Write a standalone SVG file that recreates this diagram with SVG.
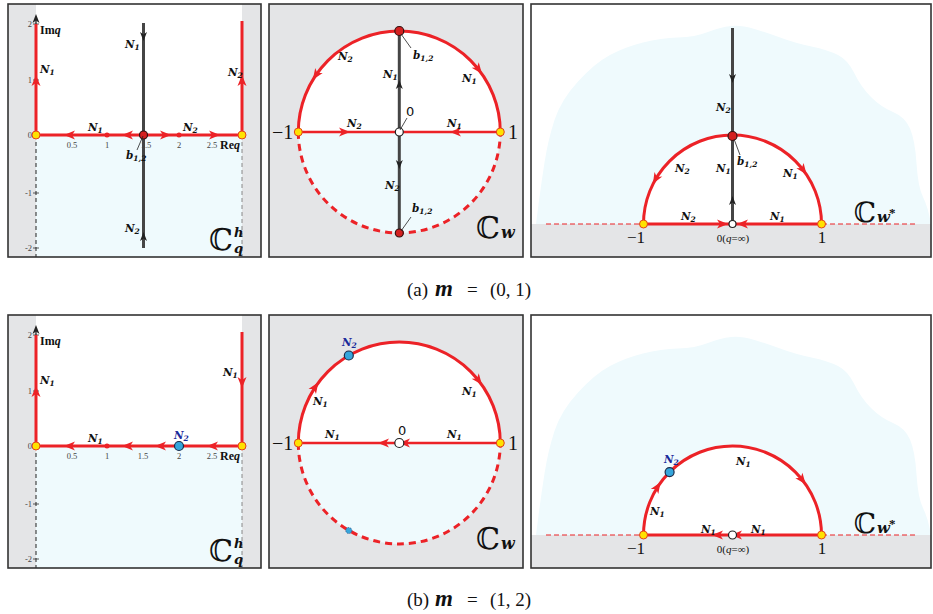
<svg xmlns="http://www.w3.org/2000/svg" width="933" height="614" viewBox="0 0 933 614">
<defs>
<style>
.bg{fill:#e4e5e7}
.frame{fill:none;stroke:#333;stroke-width:1.6}
.cy{fill:#effafd}
.red{stroke:#ec2227;stroke-width:3;fill:none}
.redd{stroke:#ec2227;stroke-width:3;fill:none;stroke-dasharray:7 5}
.rthin{stroke:#ec2227;stroke-width:1.2;stroke-dasharray:5 3;fill:none}
.dk{stroke:#454545;stroke-width:3}
.ldr{stroke:#222;stroke-width:0.8}
.ra{fill:#ec2227}
.da{fill:#222}
.n{font-family:"DejaVu Serif",serif;font-style:italic;font-weight:bold;font-size:10.5px;fill:#111}
.nb{font-family:"DejaVu Serif",serif;font-style:italic;font-weight:bold;font-size:10.5px;fill:#1a2a9a}
.s{font-size:7.5px}
.tk{font-family:"Liberation Serif",serif;font-size:8.5px;fill:#444}
.lb{font-family:"Liberation Serif",serif;fill:#111}
.z{font-family:"DejaVu Sans",sans-serif;font-size:13px;fill:#111}
.dbl{font-family:"DejaVu Serif",serif;fill:#111}
.yd{fill:#ffe200;stroke:#e2411c;stroke-width:1}
.rd{fill:#d42020;stroke:#331111;stroke-width:1.2}
.wd{fill:#fff;stroke:#222;stroke-width:1.2}
.bd{fill:#35a6dc;stroke:#1b2b4a;stroke-width:1.2}
.cap{font-family:"Liberation Serif",serif;font-size:19px;fill:#111}
</style>
<path id="ah" d="M5,0 L-6,-4.5 L-3,0 L-6,4.5 Z"/>
<path id="dh" d="M4,0 L-5,-3.5 L-2.5,0 L-5,3.5 Z"/>
<path id="cloud" d="M536,224 L538.5,204.5 Q541,185 544.5,162.5 Q548,140 554.5,120 Q561,100 578,81.5 Q595,63 610,55 Q625,47 643,42.5 Q661,38 678,37.5 Q695,37 708,32 Q721,27 731,26 Q741,25 754.5,29 Q768,33 781.5,38 Q795,43 811.5,46.5 Q828,50 838,55 Q848,60 854.5,73.5 Q861,87 871,97 Q881,107 893,112 Q905,117 910,128.5 Q915,140 916.5,163.5 Q918,187 923,197 Q928,207 931,224 Z"/>
</defs>
<rect x="0" y="0" width="933" height="614" fill="#fff"/>

<!-- ================= Row (a) ================= -->
<g id="panel-a1">
<rect x="8" y="4" width="253" height="253" class="bg"/>
<rect x="36" y="4" width="206" height="131" fill="#fff"/>
<rect x="36" y="135" width="206" height="122" class="cy"/>
<line x1="36" y1="135" x2="36" y2="257" stroke="#222" stroke-width="1" stroke-dasharray="4 3"/>
<line x1="242" y1="135" x2="242" y2="257" stroke="#888" stroke-width="1" stroke-dasharray="4 3"/>
<g stroke="#333" stroke-width="0.8">
<line x1="33" y1="24" x2="39" y2="24"/><line x1="33" y1="80" x2="39" y2="80"/>
<line x1="33" y1="193" x2="39" y2="193"/><line x1="33" y1="248" x2="39" y2="248"/>
</g>
<g class="tk" text-anchor="end">
<text x="32" y="27">2</text><text x="32" y="83">1</text><text x="32" y="138">0</text>
<text x="32" y="196">-1</text><text x="32" y="251">-2</text>
</g>
<g class="tk" text-anchor="middle">
<text x="72" y="148">0.5</text><text x="107" y="148">1</text><text x="146" y="148">1.5</text>
<text x="179" y="148">2</text><text x="212" y="148">2.5</text>
</g>
<line x1="36" y1="135" x2="36" y2="20" stroke="#222" stroke-width="1.3"/>
<use href="#dh" class="da" transform="translate(36,18) rotate(-90)"/>
<line x1="36" y1="135" x2="36" y2="24" class="red"/>
<use href="#ah" class="ra" transform="translate(36,80) rotate(-90)"/>
<line x1="242" y1="135" x2="242" y2="21" class="red"/>
<use href="#ah" class="ra" transform="translate(242,80) rotate(-90)"/>
<line x1="36" y1="135" x2="242" y2="135" class="red"/>
<use href="#ah" class="ra" transform="translate(69,135) rotate(180)"/>
<use href="#ah" class="ra" transform="translate(127,135) rotate(180)"/>
<use href="#ah" class="ra" transform="translate(166,135)"/>
<use href="#ah" class="ra" transform="translate(215,135)"/>
<circle cx="107" cy="135" r="2.5" class="ra"/>
<circle cx="179" cy="135" r="2.5" class="ra"/>
<line x1="143.5" y1="23" x2="143.5" y2="248" class="dk"/>
<use href="#dh" class="da" transform="translate(143.5,37) rotate(90)"/>
<use href="#dh" class="da" transform="translate(143.5,236) rotate(-90)"/>
<circle cx="36" cy="135" r="4" class="yd"/>
<circle cx="242" cy="135" r="4" class="yd"/>
<circle cx="143.5" cy="135" r="4" class="rd"/>
<line x1="143" y1="136" x2="137" y2="150" class="ldr"/>
<text class="n" x="126" y="159">b<tspan class="s" dy="2">1,2</tspan></text>
<text class="lb" x="40" y="34" font-size="12" font-weight="bold">Im<tspan font-style="italic">q</tspan></text>
<text class="lb" x="220" y="149" font-size="12" font-weight="bold">Re<tspan font-style="italic">q</tspan></text>
<text class="n" x="125" y="48">N<tspan class="s" dy="2">1</tspan></text>
<text class="n" x="40" y="73">N<tspan class="s" dy="2">1</tspan></text>
<text class="n" x="228" y="76">N<tspan class="s" dy="2">2</tspan></text>
<text class="n" x="88" y="131">N<tspan class="s" dy="2">1</tspan></text>
<text class="n" x="183" y="131">N<tspan class="s" dy="2">2</tspan></text>
<text class="n" x="125" y="232">N<tspan class="s" dy="2">2</tspan></text>
<text class="dbl" x="233" y="250" font-size="30" text-anchor="end">ℂ</text>
<text class="dbl" x="234" y="237" font-size="13" font-style="italic" font-weight="bold">h</text>
<text class="dbl" x="234" y="253" font-size="13" font-style="italic" font-weight="bold">q</text>
<rect x="8" y="4" width="253" height="253" class="frame"/>
</g>

<g id="panel-a2">
<rect x="269" y="4" width="254" height="253" class="bg"/>
<path d="M298.3,132 A101,101 0 0 1 500.3,132 Z" fill="#fff"/>
<path d="M298.3,132 A101,101 0 0 0 500.3,132 Z" class="cy"/>
<path d="M298.3,132 A101,101 0 0 1 500.3,132" class="red"/>
<path d="M298.3,132 A101,101 0 0 0 500.3,132" class="redd"/>
<line x1="298.3" y1="132" x2="500.3" y2="132" stroke="#ec2227" stroke-width="2.5"/>
<use href="#ah" class="ra" transform="translate(345,132)"/>
<use href="#ah" class="ra" transform="translate(455,132) rotate(180)"/>
<use href="#ah" class="ra" transform="translate(315.6,75.5) rotate(124)"/>
<use href="#ah" class="ra" transform="translate(478.9,69.8) rotate(52)"/>
<line x1="399.3" y1="31" x2="399.3" y2="233" class="dk"/>
<use href="#dh" class="da" transform="translate(399.3,84) rotate(-90)"/>
<use href="#dh" class="da" transform="translate(399.3,165) rotate(90)"/>
<circle cx="298.3" cy="132" r="4" class="yd"/>
<circle cx="500.3" cy="132" r="4" class="yd"/>
<circle cx="399.3" cy="132" r="4" class="wd"/>
<circle cx="399.3" cy="31" r="4.5" class="rd"/>
<circle cx="399.3" cy="233" r="4" class="rd"/>
<line x1="401" y1="34" x2="411" y2="48" class="ldr"/>
<text class="n" x="413" y="59">b<tspan class="s" dy="2">1,2</tspan></text>
<line x1="411" y1="217" x2="401" y2="231" class="ldr"/>
<text class="n" x="412" y="212">b<tspan class="s" dy="2">1,2</tspan></text>
<line x1="400" y1="130" x2="407" y2="118" class="ldr"/>
<text class="z" x="406" y="116">0</text>
<text class="n" x="338" y="60">N<tspan class="s" dy="2">2</tspan></text>
<text class="n" x="383" y="78">N<tspan class="s" dy="2">1</tspan></text>
<text class="n" x="462" y="82">N<tspan class="s" dy="2">1</tspan></text>
<text class="n" x="347" y="127">N<tspan class="s" dy="2">2</tspan></text>
<text class="n" x="447" y="127">N<tspan class="s" dy="2">1</tspan></text>
<text class="n" x="385" y="189">N<tspan class="s" dy="2">2</tspan></text>
<text class="lb" x="272" y="139" font-size="20">−1</text>
<text class="lb" x="508" y="139" font-size="20">1</text>
<text class="dbl" x="500" y="238" font-size="30" text-anchor="end">ℂ</text>
<text class="dbl" x="501" y="238" font-size="16" font-style="italic" font-weight="bold">w</text>
<rect x="269" y="4" width="254" height="253" class="frame"/>
</g>

<g id="panel-a3">
<rect x="531" y="4" width="400" height="253" fill="#fff"/>
<use href="#cloud" class="cy"/>
<rect x="531" y="224" width="400" height="33" class="bg"/>
<path d="M643.5,224 A89,89 0 0 1 821.5,224 Z" fill="#fff"/>
<line x1="546" y1="224" x2="643" y2="224" class="rthin"/>
<line x1="822" y1="224" x2="918" y2="224" class="rthin"/>
<path d="M643.5,224 A89,89 0 0 1 821.5,224" class="red"/>
<line x1="643.5" y1="224" x2="821.5" y2="224" class="red"/>
<use href="#ah" class="ra" transform="translate(723,224)"/>
<use href="#ah" class="ra" transform="translate(742,224) rotate(180)"/>
<use href="#ah" class="ra" transform="translate(655.4,179.5) rotate(120)"/>
<use href="#ah" class="ra" transform="translate(803.6,170.4) rotate(53)"/>
<line x1="732.5" y1="28" x2="732.5" y2="224" class="dk"/>
<use href="#dh" class="da" transform="translate(732.5,79) rotate(90)"/>
<use href="#dh" class="da" transform="translate(732.5,200) rotate(-90)"/>
<circle cx="643.5" cy="224" r="4" class="yd"/>
<circle cx="821.5" cy="224" r="4" class="yd"/>
<circle cx="732.5" cy="224" r="3.5" class="wd"/>
<circle cx="732.5" cy="136" r="4.5" class="rd"/>
<line x1="734" y1="139" x2="740" y2="155" class="ldr"/>
<text class="n" x="737" y="165">b<tspan class="s" dy="2">1,2</tspan></text>
<text class="n" x="716" y="111">N<tspan class="s" dy="2">2</tspan></text>
<text class="n" x="675" y="172">N<tspan class="s" dy="2">2</tspan></text>
<text class="n" x="716" y="172">N<tspan class="s" dy="2">1</tspan></text>
<text class="n" x="783" y="177">N<tspan class="s" dy="2">1</tspan></text>
<text class="n" x="681" y="220">N<tspan class="s" dy="2">2</tspan></text>
<text class="n" x="770" y="220">N<tspan class="s" dy="2">1</tspan></text>
<text class="lb" x="636" y="243" font-size="17" text-anchor="middle">−1</text>
<text class="lb" x="822" y="243" font-size="17" text-anchor="middle">1</text>
<text class="lb" x="733" y="242" font-size="11" text-anchor="middle">0(<tspan font-style="italic">q</tspan>=∞)</text>
<text class="dbl" x="876" y="222" font-size="28" text-anchor="end">ℂ</text>
<text class="dbl" x="877" y="222" font-size="15" font-style="italic" font-weight="bold">w</text>
<text class="lb" x="889" y="217" font-size="13" font-weight="bold">*</text>
<rect x="531" y="4" width="400" height="253" class="frame"/>
</g>

<text id="caption-a" class="cap" y="296"><tspan x="407">(a)</tspan><tspan x="435" font-style="italic" font-weight="bold" font-size="23">m</tspan><tspan x="467">=</tspan><tspan x="490">(0, 1)</tspan></text>

<!-- ================= Row (b) ================= -->
<g id="panel-b1" transform="translate(0,311)">
<rect x="8" y="4" width="253" height="253" class="bg"/>
<rect x="36" y="4" width="206" height="131" fill="#fff"/>
<rect x="36" y="135" width="206" height="122" class="cy"/>
<line x1="36" y1="135" x2="36" y2="257" stroke="#222" stroke-width="1" stroke-dasharray="4 3"/>
<line x1="242" y1="135" x2="242" y2="257" stroke="#888" stroke-width="1" stroke-dasharray="4 3"/>
<g stroke="#333" stroke-width="0.8">
<line x1="33" y1="24" x2="39" y2="24"/><line x1="33" y1="80" x2="39" y2="80"/>
<line x1="33" y1="193" x2="39" y2="193"/><line x1="33" y1="248" x2="39" y2="248"/>
</g>
<g class="tk" text-anchor="end">
<text x="32" y="27">2</text><text x="32" y="83">1</text><text x="32" y="138">0</text>
<text x="32" y="196">-1</text><text x="32" y="251">-2</text>
</g>
<g class="tk" text-anchor="middle">
<text x="72" y="148">0.5</text><text x="107" y="148">1</text><text x="143" y="148">1.5</text>
<text x="179" y="148">2</text><text x="212" y="148">2.5</text>
</g>
<line x1="36" y1="135" x2="36" y2="20" stroke="#222" stroke-width="1.3"/>
<use href="#dh" class="da" transform="translate(36,18) rotate(-90)"/>
<line x1="36" y1="135" x2="36" y2="24" class="red"/>
<use href="#ah" class="ra" transform="translate(36,80) rotate(-90)"/>
<line x1="242" y1="135" x2="242" y2="21" class="red"/>
<use href="#ah" class="ra" transform="translate(242,72) rotate(90)"/>
<line x1="36" y1="135" x2="242" y2="135" class="red"/>
<use href="#ah" class="ra" transform="translate(69,135) rotate(180)"/>
<use href="#ah" class="ra" transform="translate(127,135) rotate(180)"/>
<use href="#ah" class="ra" transform="translate(160,135) rotate(180)"/>
<use href="#ah" class="ra" transform="translate(212,135) rotate(180)"/>
<circle cx="107" cy="135" r="2.5" class="ra"/>
<circle cx="36" cy="135" r="4" class="yd"/>
<circle cx="242" cy="135" r="4" class="yd"/>
<circle cx="179" cy="135" r="4.5" class="bd"/>
<text class="lb" x="40" y="34" font-size="12" font-weight="bold">Im<tspan font-style="italic">q</tspan></text>
<text class="lb" x="220" y="149" font-size="12" font-weight="bold">Re<tspan font-style="italic">q</tspan></text>
<text class="n" x="40" y="73">N<tspan class="s" dy="2">1</tspan></text>
<text class="n" x="223" y="65">N<tspan class="s" dy="2">1</tspan></text>
<text class="n" x="88" y="131">N<tspan class="s" dy="2">1</tspan></text>
<text class="nb" x="174" y="128">N<tspan class="s" dy="2">2</tspan></text>
<text class="dbl" x="233" y="250" font-size="30" text-anchor="end">ℂ</text>
<text class="dbl" x="234" y="237" font-size="13" font-style="italic" font-weight="bold">h</text>
<text class="dbl" x="234" y="253" font-size="13" font-style="italic" font-weight="bold">q</text>
<rect x="8" y="4" width="253" height="253" class="frame"/>
</g>

<g id="panel-b2" transform="translate(0,311)">
<rect x="269" y="4" width="254" height="253" class="bg"/>
<path d="M298.3,132 A101,101 0 0 1 500.3,132 Z" fill="#fff"/>
<path d="M298.3,132 A101,101 0 0 0 500.3,132 Z" class="cy"/>
<path d="M298.3,132 A101,101 0 0 1 500.3,132" class="red"/>
<path d="M298.3,132 A101,101 0 0 0 500.3,132" class="redd"/>
<line x1="298.3" y1="132" x2="500.3" y2="132" stroke="#ec2227" stroke-width="2.5"/>
<use href="#ah" class="ra" transform="translate(383,132) rotate(180)"/>
<use href="#ah" class="ra" transform="translate(404,132) rotate(180)"/>
<use href="#ah" class="ra" transform="translate(315.6,75.5) rotate(-56)"/>
<use href="#ah" class="ra" transform="translate(478.9,69.8) rotate(52)"/>
<circle cx="298.3" cy="132" r="4" class="yd"/>
<circle cx="500.3" cy="132" r="4" class="yd"/>
<circle cx="399.3" cy="132" r="4.5" class="wd"/>
<circle cx="348.8" cy="44.5" r="4.5" class="bd"/>
<circle cx="348.8" cy="219.5" r="3" fill="#35a6dc" stroke="#3a5a8a" stroke-width="0.8" stroke-dasharray="1.5 1"/>
<text class="z" x="398" y="124">0</text>
<text class="nb" x="342" y="35">N<tspan class="s" dy="2">2</tspan></text>
<text class="n" x="313" y="94">N<tspan class="s" dy="2">1</tspan></text>
<text class="n" x="462" y="84">N<tspan class="s" dy="2">1</tspan></text>
<text class="n" x="325" y="127">N<tspan class="s" dy="2">1</tspan></text>
<text class="n" x="447" y="127">N<tspan class="s" dy="2">1</tspan></text>
<text class="lb" x="272" y="139" font-size="20">−1</text>
<text class="lb" x="508" y="139" font-size="20">1</text>
<text class="dbl" x="500" y="238" font-size="30" text-anchor="end">ℂ</text>
<text class="dbl" x="501" y="238" font-size="16" font-style="italic" font-weight="bold">w</text>
<rect x="269" y="4" width="254" height="253" class="frame"/>
</g>

<g id="panel-b3" transform="translate(0,311)">
<rect x="531" y="4" width="400" height="253" fill="#fff"/>
<use href="#cloud" class="cy"/>
<rect x="531" y="224" width="400" height="33" class="bg"/>
<path d="M643.5,224 A89,89 0 0 1 821.5,224 Z" fill="#fff"/>
<line x1="546" y1="224" x2="643" y2="224" class="rthin"/>
<line x1="822" y1="224" x2="918" y2="224" class="rthin"/>
<path d="M643.5,224 A89,89 0 0 1 821.5,224" class="red"/>
<line x1="643.5" y1="224" x2="821.5" y2="224" class="red"/>
<use href="#ah" class="ra" transform="translate(717,224) rotate(180)"/>
<use href="#ah" class="ra" transform="translate(736,224) rotate(180)"/>
<use href="#ah" class="ra" transform="translate(657.8,175.5) rotate(-57)"/>
<use href="#ah" class="ra" transform="translate(802.6,169.2) rotate(52)"/>
<circle cx="643.5" cy="224" r="4" class="yd"/>
<circle cx="821.5" cy="224" r="4" class="yd"/>
<circle cx="732.5" cy="224" r="4" class="wd"/>
<circle cx="669.6" cy="161.1" r="4.5" class="bd"/>
<text class="nb" x="664" y="152">N<tspan class="s" dy="2">2</tspan></text>
<text class="n" x="736" y="154">N<tspan class="s" dy="2">1</tspan></text>
<text class="n" x="650" y="204">N<tspan class="s" dy="2">1</tspan></text>
<text class="n" x="701" y="222">N<tspan class="s" dy="2">1</tspan></text>
<text class="n" x="751" y="222">N<tspan class="s" dy="2">1</tspan></text>
<text class="lb" x="636" y="243" font-size="17" text-anchor="middle">−1</text>
<text class="lb" x="822" y="243" font-size="17" text-anchor="middle">1</text>
<text class="lb" x="733" y="242" font-size="11" text-anchor="middle">0(<tspan font-style="italic">q</tspan>=∞)</text>
<text class="dbl" x="876" y="222" font-size="28" text-anchor="end">ℂ</text>
<text class="dbl" x="877" y="222" font-size="15" font-style="italic" font-weight="bold">w</text>
<text class="lb" x="889" y="217" font-size="13" font-weight="bold">*</text>
<rect x="531" y="4" width="400" height="253" class="frame"/>
</g>

<text id="caption-b" class="cap" y="606"><tspan x="407">(b)</tspan><tspan x="435" font-style="italic" font-weight="bold" font-size="23">m</tspan><tspan x="467">=</tspan><tspan x="490">(1, 2)</tspan></text>
</svg>
